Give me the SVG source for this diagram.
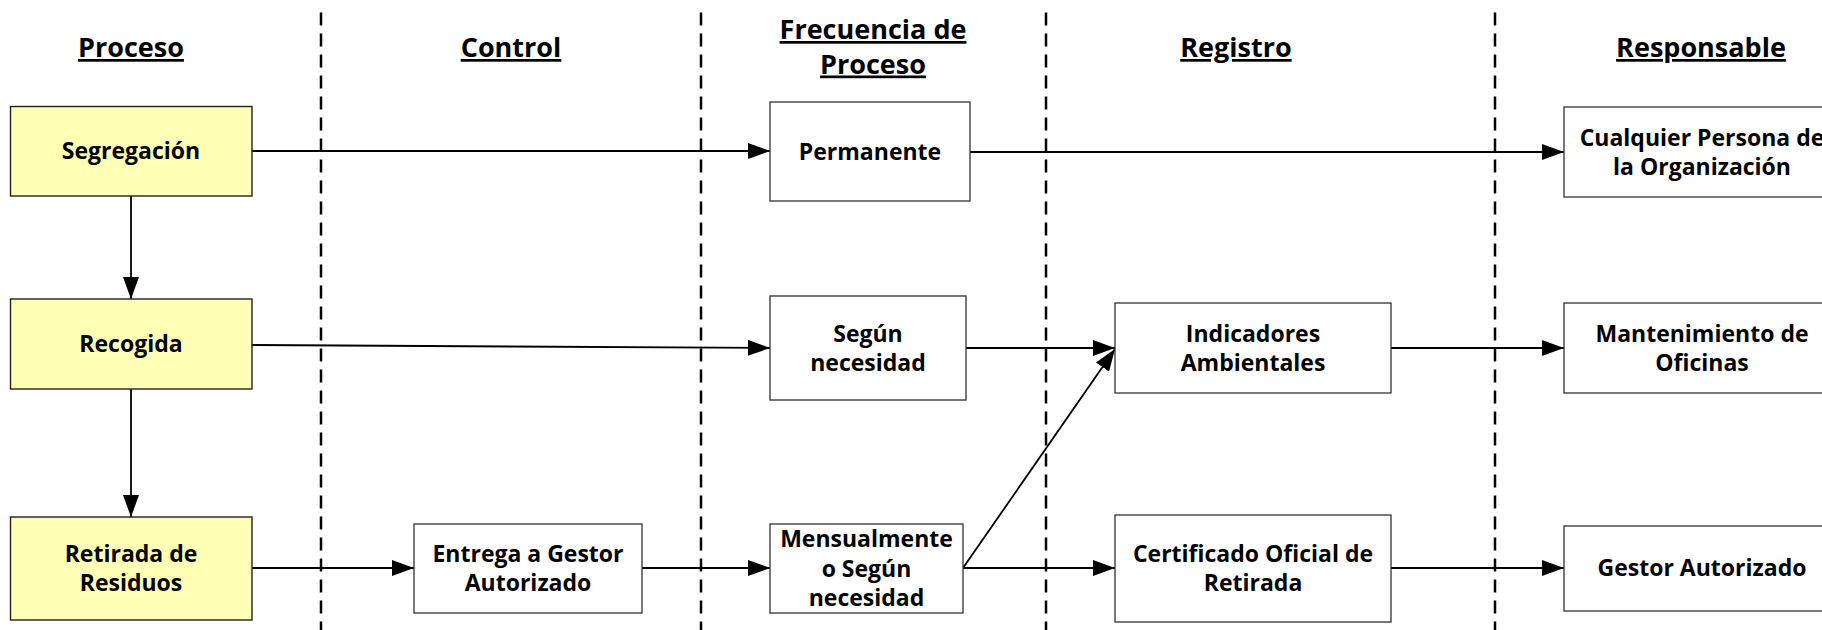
<svg xmlns="http://www.w3.org/2000/svg" width="1822" height="630" viewBox="0 0 1822 630">
<style>
  .bg { fill: #ffffff; }
  .lane { stroke: #000; stroke-width: 2.5; stroke-dasharray: 13 8; fill: none; }
  .hd { font-family: "Open Sans", "Liberation Sans", sans-serif; font-weight: 700; font-size: 27px; fill: #000; text-anchor: middle; text-decoration: underline; }
  .proc { fill: #ffffb5; stroke: #222; stroke-width: 1.4; }
  .box { fill: #ffffff; stroke: #333; stroke-width: 1.3; }
  .t { font-family: "Open Sans", "Liberation Sans", sans-serif; font-weight: 700; font-size: 23px; fill: #000; text-anchor: middle; }
  .c { stroke: #000; stroke-width: 1.8; fill: none; marker-end: url(#arr); }
</style>
<defs>
  <marker id="arr" markerUnits="userSpaceOnUse" markerWidth="22" markerHeight="16" refX="22" refY="8" orient="auto" viewBox="0 0 22 16">
    <path d="M0,0 L22,8 L0,16 Z" fill="#000"/>
  </marker>
</defs>
<rect class="bg" x="0" y="0" width="1822" height="630"/>

<g id="lanes">
  <line class="lane" x1="321" y1="12.5" x2="321" y2="630"/>
  <line class="lane" x1="701" y1="12.5" x2="701" y2="630"/>
  <line class="lane" x1="1046" y1="12.5" x2="1046" y2="630"/>
  <line class="lane" x1="1495" y1="12.5" x2="1495" y2="630"/>
</g>

<g id="headers">
  <text class="hd" x="131" y="57">Proceso</text>
  <text class="hd" x="511" y="57">Control</text>
  <text class="hd" x="873" y="39">Frecuencia de</text>
  <text class="hd" x="873" y="73.5">Proceso</text>
  <text class="hd" x="1236" y="57">Registro</text>
  <text class="hd" x="1701" y="57">Responsable</text>
</g>

<g id="connectors">
  <line class="c" x1="252" y1="151" x2="770" y2="151"/>
  <line class="c" x1="970" y1="152" x2="1564" y2="152"/>
  <line class="c" x1="131" y1="196" x2="131" y2="299"/>
  <line class="c" x1="252" y1="345" x2="770" y2="348"/>
  <line class="c" x1="966" y1="348" x2="1115" y2="348"/>
  <line class="c" x1="1391" y1="348" x2="1564" y2="348"/>
  <line class="c" x1="131" y1="389" x2="131" y2="517"/>
  <line class="c" x1="252" y1="568" x2="414" y2="568"/>
  <line class="c" x1="642" y1="568" x2="770" y2="568"/>
  <line class="c" x1="963" y1="568" x2="1115" y2="568"/>
  <line class="c" x1="963" y1="568" x2="1115" y2="349"/>
  <line class="c" x1="1391" y1="568" x2="1564" y2="568"/>
</g>

<g id="segregacion">
  <rect class="proc" x="10.5" y="106.5" width="241.5" height="89.5"/>
  <text class="t" x="131" y="159">Segregación</text>
</g>
<g id="recogida">
  <rect class="proc" x="10.5" y="299" width="241.5" height="90"/>
  <text class="t" x="131" y="352">Recogida</text>
</g>
<g id="retirada">
  <rect class="proc" x="10.5" y="517" width="241.5" height="103"/>
  <text class="t" x="131" y="562">Retirada de</text>
  <text class="t" x="131" y="591">Residuos</text>
</g>

<g id="entrega">
  <rect class="box" x="414" y="524" width="228" height="89"/>
  <text class="t" x="528" y="562">Entrega a Gestor</text>
  <text class="t" x="528" y="591">Autorizado</text>
</g>

<g id="permanente">
  <rect class="box" x="770" y="102" width="200" height="99"/>
  <text class="t" x="870" y="160">Permanente</text>
</g>
<g id="segun">
  <rect class="box" x="770" y="296" width="196" height="104"/>
  <text class="t" x="868" y="341.5">Según</text>
  <text class="t" x="868" y="370.5">necesidad</text>
</g>
<g id="mensualmente">
  <rect class="box" x="770" y="524" width="193" height="89"/>
  <text class="t" x="866.5" y="547">Mensualmente</text>
  <text class="t" x="866.5" y="576.5">o Según</text>
  <text class="t" x="866.5" y="606">necesidad</text>
</g>

<g id="indicadores">
  <rect class="box" x="1115" y="303" width="276" height="90"/>
  <text class="t" x="1253" y="341.5">Indicadores</text>
  <text class="t" x="1253" y="370.5">Ambientales</text>
</g>
<g id="certificado">
  <rect class="box" x="1115" y="515" width="276" height="107"/>
  <text class="t" x="1253" y="562">Certificado Oficial de</text>
  <text class="t" x="1253" y="591">Retirada</text>
</g>

<g id="cualquier">
  <rect class="box" x="1564" y="107" width="276" height="90"/>
  <text class="t" x="1702" y="145.5">Cualquier Persona de</text>
  <text class="t" x="1702" y="174.5">la Organización</text>
</g>
<g id="mantenimiento">
  <rect class="box" x="1564" y="303" width="276" height="90"/>
  <text class="t" x="1702" y="341.5">Mantenimiento de</text>
  <text class="t" x="1702" y="370.5">Oficinas</text>
</g>
<g id="gestor">
  <rect class="box" x="1564" y="526" width="276" height="85"/>
  <text class="t" x="1702" y="576">Gestor Autorizado</text>
</g>
</svg>
